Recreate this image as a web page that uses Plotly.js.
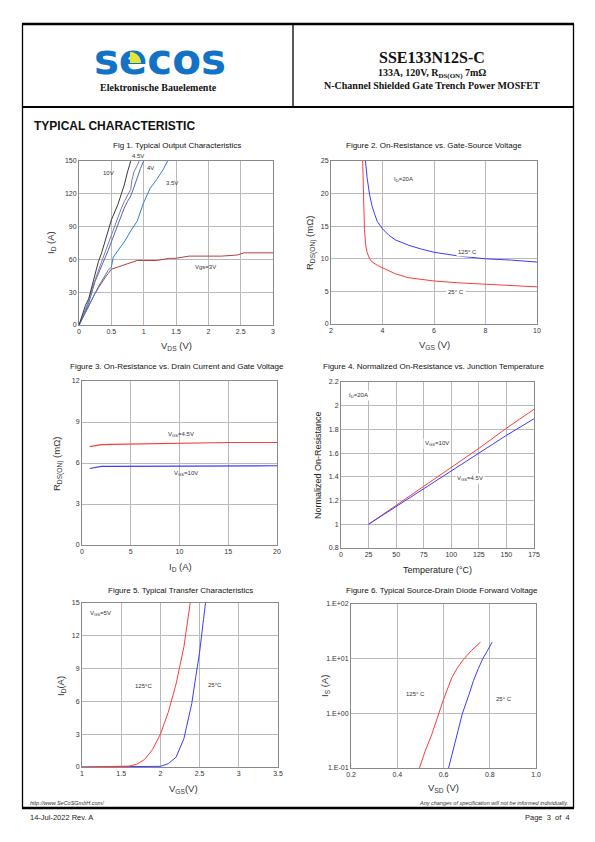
<!DOCTYPE html>
<html><head><meta charset="utf-8">
<script src="https://cdn.plot.ly/plotly-3.0.1.min.js"></script>
<style>html,body{margin:0;padding:0;background:#fff}#g{width:595px;height:842px}</style>
</head><body><div id="g"></div>
<script>
// ---- Fig 1: output characteristics ----
const vds10 = [0,0.05,0.1,0.15,0.2,0.25,0.3,0.35,0.4,0.45,0.5,0.55,0.6,0.65,0.7,0.75,0.8];
const id10  = [0,8,18,24,35,45,58,66,75,86,96,103,110,119,128,140,150];
const vds45 = [0,0.05,0.1,0.15,0.2,0.25,0.3,0.35,0.4,0.45,0.5,0.55,0.6,0.65,0.7,0.75,0.8,0.82,0.85,0.9,0.93];
const id45  = [0,7,15,22,33,42,50,58,66,74,83,91,99,106,113,118,124,133,140,146,150];
const vds4  = [0,0.05,0.1,0.15,0.2,0.25,0.3,0.35,0.4,0.45,0.5,0.55,0.6,0.65,0.7,0.75,0.8,0.85,0.9,0.95,1.0];
const id4   = [0,6,13,20,30,40,47,54,60,68,76,84,92,100,107,113,118,126,135,143,150];
const vds35 = [0,0.05,0.1,0.15,0.2,0.25,0.3,0.35,0.4,0.45,0.5,0.53,0.6,0.7,0.8,0.9,1.0,1.05,1.1,1.2,1.3,1.37];
const id35  = [0,6,12,18,24,30,35,40,45,50,53,62,68,76,86,95,112,118,125,133,142,150];
const vds3  = [0,0.05,0.1,0.15,0.2,0.25,0.3,0.35,0.4,0.45,0.5,0.6,0.7,0.8,0.9,1.0,1.2,1.3,1.4,1.5,1.6,1.7,1.8,2.0,2.2,2.45,2.55,2.6,3.0];
const id3   = [0,6,12,18,24,29,34,39,43,47,51,53,55,57,59,59,59,60,61,61,62,63,63,63,63,64,66,66,66];
// ---- Fig 2: Rds(on) vs Vgs ----
const vgs2_25  = [3.23,3.25,3.28,3.3,3.35,3.4,3.5,3.6,3.8,4,4.5,5,5.5,6,7,8,9,10];
const r2_25    = [25,21,17,14.5,12,11,10,9.5,9,8.6,7.7,7.1,6.8,6.6,6.3,6.1,5.9,5.7];
const vgs2_125 = [3.34,3.4,3.5,3.6,3.7,3.8,4,4.25,4.5,5,5.5,6,7,8,9,10];
const r2_125   = [25,22.5,19.8,18,16.8,15.7,14.6,13.6,12.9,12.1,11.5,11,10.4,10,9.8,9.5];
// ---- Fig 3: Rds(on) vs Id ----
const id_f3  = [0.8,1.5,2,3,5,7.5,10,12.5,15,17.5,20];
const r3_45  = [7.2,7.3,7.35,7.37,7.4,7.42,7.45,7.47,7.5,7.5,7.5];
const r3_10  = [5.6,5.68,5.75,5.75,5.76,5.77,5.78,5.79,5.8,5.8,5.8];
// ---- Fig 4: normalized Rds(on) vs Tj ----
const tj    = [25,50,75,100,125,150,175];
const n4_10 = [1,1.16,1.32,1.48,1.64,1.81,1.97];
const n4_45 = [1,1.15,1.30,1.45,1.60,1.75,1.89];
// ---- Fig 5: transfer ----
const vgs5_125 = [1,1.5,1.6,1.7,1.8,1.9,2.0,2.1,2.2,2.3,2.38];
const id5_125  = [0,0.02,0.08,0.25,0.7,1.6,3.0,5.0,7.6,11,15];
const vgs5_25  = [1,1.9,2.0,2.1,2.2,2.3,2.4,2.45,2.5,2.55,2.575];
const id5_25   = [0,0.01,0.06,0.3,0.9,2.6,5.8,8.2,10.5,13.5,15];
// ---- Fig 6: body diode ----
const vsd125 = [0.496,0.52,0.55,0.578,0.6,0.62,0.636,0.66,0.686,0.72,0.76];
const is125  = [0.1,0.2,0.42,1,1.8,3,4.5,6.8,9.6,14,20];
const vsd25  = [0.622,0.65,0.682,0.71,0.73,0.75,0.77,0.79,0.81];
const is25   = [0.1,0.3,1,2.2,4,6.5,10,14,20];
const logTickVals = [0.1,1,10,100];
const logTickText = ['1.E-01','1.E+00','1.E+01','1.E+02'];

const W=595,H=842;
const fx=p=>p/W, fy=p=>1-p/H;
const SANS='Liberation Sans, Arial, sans-serif', SERIF='Liberation Serif, Times New Roman, serif';
const RED='#ff3b3b', BLUE='#3b3bff';

function ln(x,y,xa,ya,color,w){return {x:x,y:y,xaxis:xa,yaxis:ya,type:'scatter',mode:'lines',line:{color:color,width:w||1},hoverinfo:'skip'};}
const data=[
 ln(vds3,id3,'x','y','#b5403c'),
 ln(vds35,id35,'x','y','#2f7fd4'),
 ln(vds4,id4,'x','y','#4c68bc'),
 ln(vds45,id45,'x','y','#8676a6'),
 ln(vds10,id10,'x','y','#3a3a3a'),
 ln(vgs2_25,r2_25,'x2','y2',RED),
 ln(vgs2_125,r2_125,'x2','y2',BLUE),
 ln(id_f3,r3_45,'x3','y3',RED,1.2),
 ln(id_f3,r3_10,'x3','y3',BLUE,1.2),
 ln(tj,n4_10,'x4','y4',RED),
 ln(tj,n4_45,'x4','y4',BLUE),
 ln(vgs5_25,id5_25,'x5','y5',BLUE),
 ln(vgs5_125,id5_125,'x5','y5',RED),
 ln(vsd125,is125,'x6','y6',RED),
 ln(vsd25,is25,'x6','y6',BLUE),
 // logo word (as text trace so the yellow accent shape can sit above it)
 {x:[0.5],y:[0.5],xaxis:'x7',yaxis:'y7',type:'scatter',mode:'text',text:['<b>secos</b>'],
  textfont:{family:'DejaVu Sans, sans-serif',size:42,color:'#1273c6'},textposition:'middle center',hoverinfo:'skip',cliponaxis:false}
];

function ax(x0,x1,range,dtick,extra){return Object.assign({domain:[x0,x1],range:range,dtick:dtick,tick0:range[0],showgrid:true,gridcolor:'#b9b9b9',gridwidth:1,zeroline:false,showline:true,linecolor:'#8a8a8a',linewidth:1,mirror:true,ticks:'',tickfont:{family:SANS,size:7,color:'#333'},fixedrange:true},extra||{});}
const layout={
 width:W,height:H,margin:{l:0,r:0,t:0,b:0},paper_bgcolor:'#fff',plot_bgcolor:'#fff',showlegend:false,
 xaxis: ax(fx(79),fx(273),[0,3],0.5,{anchor:'y'}),
 yaxis: ax(fy(325),fy(161),[0,150],30,{anchor:'x'}),
 xaxis2:ax(fx(331),fx(537),[2,10],2,{anchor:'y2'}),
 yaxis2:ax(fy(324),fy(161),[0,25],5,{anchor:'x2'}),
 xaxis3:ax(fx(82),fx(277),[0,20],5,{anchor:'y3'}),
 yaxis3:ax(fy(545),fy(381),[0,12],3,{anchor:'x3'}),
 xaxis4:ax(fx(341),fx(534),[0,175],25,{anchor:'y4'}),
 yaxis4:ax(fy(548),fy(382),[0.8,2.2],0.2,{anchor:'x4'}),
 xaxis5:ax(fx(82),fx(278),[1,3.5],0.5,{anchor:'y5'}),
 yaxis5:ax(fy(767),fy(603),[0,15],3,{anchor:'x5'}),
 xaxis6:ax(fx(351),fx(536),[0.2,1.0],0.2,{anchor:'y6',tickformat:'.1f'}),
 yaxis6:ax(fy(768),fy(604),[-1,2],null,{anchor:'x6',type:'log',tickvals:logTickVals,ticktext:logTickText}),
 xaxis7:{domain:[fx(90),fx(230)],range:[0,1],visible:false,anchor:'y7',fixedrange:true},
 yaxis7:{domain:[fy(80),fy(46)],range:[0,1],visible:false,anchor:'x7',fixedrange:true},
 shapes:[],annotations:[]
};
const S=layout.shapes, A=layout.annotations;
function hl(x0,x1,y,w){S.push({type:'line',xref:'paper',yref:'paper',x0:fx(x0),x1:fx(x1),y0:fy(y),y1:fy(y),line:{color:'#000',width:w}});}
function vl(x,y0,y1,w){S.push({type:'line',xref:'paper',yref:'paper',x0:fx(x),x1:fx(x),y0:fy(y0),y1:fy(y1),line:{color:'#000',width:w}});}
hl(22,574,24,2.5); hl(22,574,107,2.2); hl(22,574,808,2.5);
vl(22.5,24,808,1.3); vl(573.5,24,808,1.3); vl(293,24,107,1.3);
// yellow accent of the logo (quarter disc)
(function(){const cx=130,cy=63,r=11;let p=`M ${fx(cx)},${fy(cy)}`;for(let i=0;i<=12;i++){const t=i/12*Math.PI/2;p+=` L ${fx(cx+r*Math.sin(t))},${fy(cy-r*Math.cos(t))}`;}p+=' Z';
S.push({type:'path',xref:'paper',yref:'paper',layer:'above',path:p,fillcolor:'#e4e636',line:{width:0}});})();

function pt(text,x,y,size,opt){A.push(Object.assign({text:text,xref:'paper',yref:'paper',x:fx(x),y:fy(y),showarrow:false,xanchor:'center',yanchor:'middle',font:{family:SANS,size:size,color:'#111'}},opt||{}));}
pt('<b>Elektronische Bauelemente</b>',158,87,10,{font:{family:SERIF,size:10,color:'#111'}});
pt('<b>SSE133N12S-C</b>',432,57,16,{font:{family:SERIF,size:16,color:'#111'}});
pt('<b>133A, 120V, R<sub>DS(ON)</sub> 7mΩ</b>',432,74,10,{font:{family:SERIF,size:10,color:'#111'}});
pt('<b>N-Channel Shielded Gate Trench Power MOSFET</b>',432,85,10,{font:{family:SERIF,size:10,color:'#111'}});
pt('<b>TYPICAL CHARACTERISTIC</b>',32,126,12,{xanchor:'left'});
// footer
pt('<i>http://www.SeCoSGmbH.com/</i>',28,803,5.5,{xanchor:'left',font:{family:SANS,size:5.5,color:'#333'}});
pt('<i>Any changes of specification will not be informed individually.</i>',570,803,5.5,{xanchor:'right',font:{family:SANS,size:5.5,color:'#333'}});
pt('14-Jul-2022 Rev. A',28,817,7.5,{xanchor:'left',font:{family:SANS,size:7.5,color:'#222'}});
pt('Page  3  of  4',572,817,7.5,{xanchor:'right',font:{family:SANS,size:7.5,color:'#222'}});
// figure titles
pt('Fig 1. Typical Output Characteristics',177,145,8);
pt('Figure 2. On-Resistance vs. Gate-Source Voltage',434,145,8);
pt('Figure 3. On-Resistance vs. Drain Current and Gate Voltage',177,366,8);
pt('Figure 4. Normalized On-Resistance vs. Junction Temperature',433,366,8);
pt('Figure 5. Typical Transfer Characteristics',180,590,8);
pt('Figure 6. Typical Source-Drain Diode Forward Voltage',442,590,8);
// axis titles
const AT={family:SANS,size:9.5,color:'#333'};
pt('V<sub>DS</sub> (V)',176,346,9.5,{font:AT});
pt('I<sub>D</sub> (A)',51,243,9.5,{font:AT,textangle:-90});
pt('V<sub>GS</sub> (V)',434,345,9.5,{font:AT});
pt('R<sub>DS(ON)</sub> (mΩ)',311,243,9.5,{font:AT,textangle:-90});
pt('I<sub>D</sub> (A)',181,567,9.5,{font:AT});
pt('R<sub>DS(ON)</sub> (mΩ)',58,464,9.5,{font:AT,textangle:-90});
pt('Temperature (°C)',437,570,9,{font:{family:SANS,size:9,color:'#222'}});
pt('Normalized On-Resistance',318,465,9,{font:{family:SANS,size:9,color:'#222'},textangle:-90});
pt('V<sub>GS</sub>(V)',183,789,9.5,{font:AT});
pt('I<sub>D</sub>(A)',61,686,9.5,{font:AT,textangle:-90});
pt('V<sub>SD</sub> (V)',443,788,9.5,{font:AT});
pt('I<sub>S</sub> (A)',325,686,9.5,{font:AT,textangle:-90});
// in-plot labels
function dl(text,x,y,xr,yr,opt){A.push(Object.assign({text:text,xref:xr,yref:yr,x:x,y:y,showarrow:false,xanchor:'center',yanchor:'middle',font:{family:SANS,size:6,color:'#333'}},opt||{}));}
dl('10V',0.46,139,'x','y');
pt('4.5V',138,156,6,{font:{family:SANS,size:6,color:'#333'}});
dl('4V',1.1,144,'x','y');
dl('3.5V',1.44,130,'x','y');
dl('Vgs=3V',1.96,53,'x','y');
dl('I<sub>D</sub>=20A',4.8,22.1,'x2','y2');
dl('125° C',7.3,11.1,'x2','y2',{bgcolor:'#fff'});
dl('25° C',6.87,4.9,'x2','y2',{bgcolor:'#fff'});
dl('V<sub>GS</sub>=4.5V',10.2,8.1,'x3','y3');
dl('V<sub>GS</sub>=10V',10.7,5.25,'x3','y3');
dl('I<sub>D</sub>=20A',16,2.09,'x4','y4',{bgcolor:'#fff'});
dl('V<sub>GS</sub>=10V',87,1.68,'x4','y4',{bgcolor:'#fff'});
dl('V<sub>GS</sub>=4.5V',117,1.39,'x4','y4',{bgcolor:'#fff'});
dl('V<sub>GS</sub>=5V',1.23,14,'x5','y5');
dl('125°C',1.79,7.4,'x5','y5');
dl('25°C',2.69,7.5,'x5','y5');
dl('125° C',0.478,Math.log10(2.26),'x6','y6');
dl('25° C',0.862,Math.log10(1.83),'x6','y6');

Plotly.newPlot('g',data,layout,{staticPlot:true,displayModeBar:false});
</script></body></html>
